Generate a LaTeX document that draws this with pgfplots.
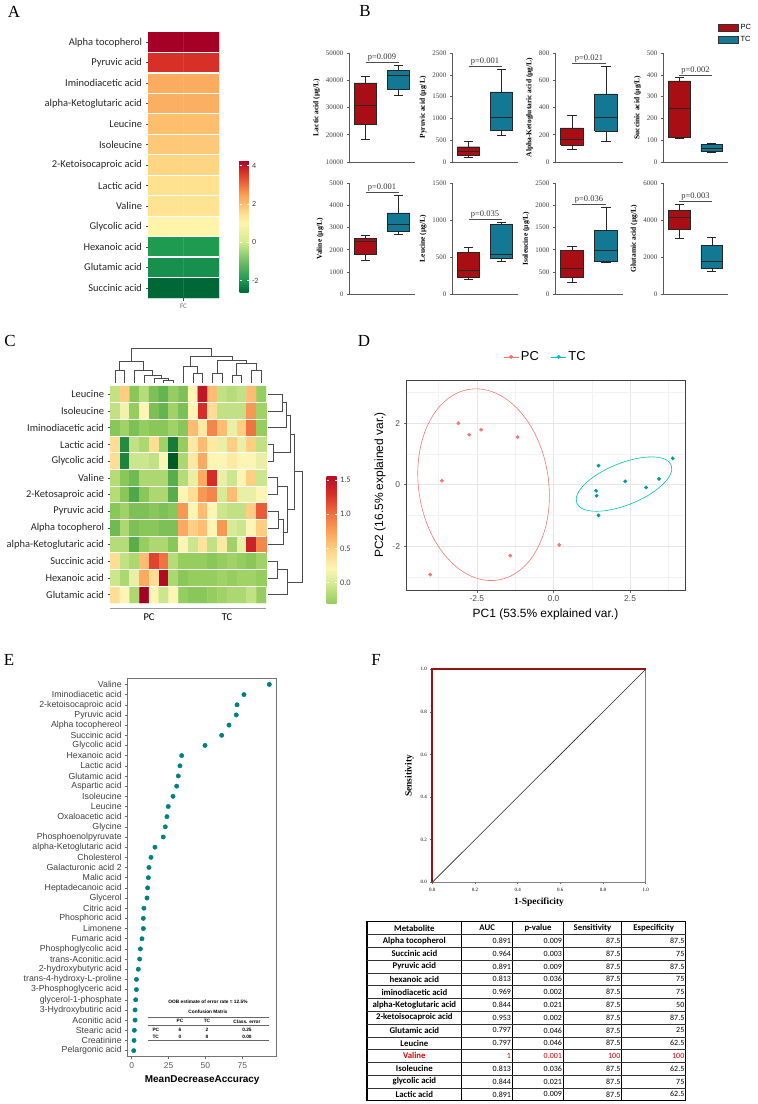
\documentclass[border=0pt]{standalone}
\usepackage{fontspec}
\setmainfont{Liberation Serif}
\newfontfamily\calfont{Carlito}
\newfontfamily\arifont{Liberation Sans}
\usepackage{pgfplots}
\pgfplotsset{compat=1.18}
\definecolor{pcred}{RGB}{168,14,20}
\definecolor{tcblue}{RGB}{18,120,148}
\definecolor{pcpink}{RGB}{248,118,109}
\definecolor{tccyan}{RGB}{0,191,196}
\definecolor{dotteal}{RGB}{0,128,128}
\definecolor{rocred}{RGB}{150,20,20}
\definecolor{valred}{RGB}{225,0,0}
\pgfplotsset{/pgf/number format/assume math mode=true}
\newcommand{\dtop}[5]{\draw (axis cs:#1,#2) -- (axis cs:#1,#5) -- (axis cs:#3,#5) -- (axis cs:#3,#4);}
\newcommand{\dright}[5]{\draw (axis cs:#2,#1) -- (axis cs:#5,#1) -- (axis cs:#5,#3) -- (axis cs:#4,#3);}
\pgfplotsset{
  bplot/.style={scale only axis, width=66bp, axis lines*=left, axis line style={black!65, line width=0.8bp, -},
    xmin=0.5, xmax=2.5, xtick=\empty, tick align=outside, major tick length=2.2bp,
    tick style={black!65, line width=0.6bp}, ytick pos=left,
    yticklabel style={font=\fontsize{7}{8}\selectfont, text=black!75},
    ylabel style={font=\bfseries\fontsize{7.5}{8}\selectfont, yshift=-1bp},
    scaled y ticks=false, /pgf/number format/set thousands separator={}, clip=false},
  pcbox/.style={fill=pcred, draw=black!85, line width=0.45bp},
  tcbox/.style={fill=tcblue, draw=black!85, line width=0.45bp},
}
% box at position 1 / 2: style, lower whisker, Q1, median, Q3, upper whisker
\newcommand{\bxa}[6]{\addplot[#1] coordinates {(0.665,#3) (1.335,#3) (1.335,#5) (0.665,#5) (0.665,#3)};
 \addplot[black!85, line width=0.45bp, unbounded coords=jump] coordinates {(1,#2) (1,#3) (nan,nan) (1,#5) (1,#6) (nan,nan) (0.86,#2) (1.14,#2) (nan,nan) (0.86,#6) (1.14,#6) (nan,nan) (0.665,#4) (1.335,#4)};}
\newcommand{\bxb}[6]{\addplot[#1] coordinates {(1.665,#3) (2.335,#3) (2.335,#5) (1.665,#5) (1.665,#3)};
 \addplot[black!85, line width=0.45bp, unbounded coords=jump] coordinates {(2,#2) (2,#3) (nan,nan) (2,#5) (2,#6) (nan,nan) (1.86,#2) (2.14,#2) (nan,nan) (1.86,#6) (2.14,#6) (nan,nan) (1.665,#4) (2.335,#4)};}
\newcommand{\pval}[2]{\addplot[black!70, line width=0.5bp] coordinates {(1,#1) (2,#1)};
  \node[anchor=south, inner sep=0.6bp, font=\fontsize{8.5}{9}\selectfont, text=black!80] at (axis cs:1.5,#1) {#2};}
\begin{document}
\begin{tikzpicture}
\useasboundingbox (0bp,0bp) rectangle (758bp,-1104bp);
% panel letters
\node[font=\fontsize{17}{18}\selectfont] at (14bp,-12bp) {A};
\node[font=\fontsize{17}{18}\selectfont] at (365bp,-11bp) {B};
\node[font=\fontsize{17}{18}\selectfont] at (10bp,-341bp) {C};
\node[font=\fontsize{17}{18}\selectfont] at (364bp,-341bp) {D};
\node[font=\fontsize{17}{18}\selectfont] at (9bp,-660bp) {E};
\node[font=\fontsize{17}{18}\selectfont] at (376bp,-660bp) {F};

% ================= A =================
\begin{axis}[at={(148bp,-298bp)}, anchor=south west, scale only axis, width=71bp, height=266bp,
  xmin=-0.5, xmax=1.5, ymin=-0.5, ymax=12.5, y dir=reverse,
  axis line style={draw=none}, tick align=outside, major tick length=2.5bp,
  tick style={black!70, line width=0.5pt}, xtick pos=left, ytick pos=left,
  xtick={0.5}, xticklabels={FC}, ytick={0,...,12},
  yticklabels={Alpha tocopherol, Pyruvic acid, Iminodiacetic acid, alpha-Ketoglutaric acid, Leucine, Isoleucine, 2-Ketoisocaproic acid, Lactic acid, Valine, Glycolic acid, Hexanoic acid, Glutamic acid, Succinic acid},
  yticklabel style={font=\calfont\fontsize{10.5}{11}\selectfont, text=black!85},
  xticklabel style={font=\calfont\fontsize{7}{8}\selectfont, text=black!60},
  minor ytick={0.5,1.5,...,11.5}, yminorgrids, minor grid style={white, line width=1.2bp}, minor tick length=0pt,
  axis on top,
  colormap={fcmap}{rgb255(0cm)=(0,104,55); rgb255(6cm)=(26,152,80); rgb255(16cm)=(110,190,100); rgb255(26cm)=(210,235,140); rgb255(36cm)=(255,244,170); rgb255(41cm)=(254,224,140); rgb255(46cm)=(253,190,110); rgb255(51cm)=(250,160,85); rgb255(56cm)=(240,110,60); rgb255(63cm)=(215,48,39); rgb255(69cm)=(165,0,38)},
  point meta min=-2.6, point meta max=4.3,
  colorbar, colorbar style={at={(parent axis.south east)}, anchor=south west, xshift=12bp, yshift=6bp, scale only axis, width=9bp, height=132bp, ytick={-2,0,2,4}, yticklabel pos=right, axis line style={draw=none}, major tick length=2bp, tick style={white, line width=0.6pt}, tick align=inside, yticklabel style={font=\calfont\fontsize{8}{9}\selectfont, text=black!75}}]
\addplot[matrix plot*, mesh/cols=2, point meta=explicit] table[meta=c, row sep=\\]{
x y c\\
0 0 4.3\\ 1 0 4.3\\
0 1 3.7\\ 1 1 3.7\\
0 2 2.3\\ 1 2 2.3\\
0 3 2.25\\ 1 3 2.25\\
0 4 2.0\\ 1 4 2.0\\
0 5 1.85\\ 1 5 1.85\\
0 6 1.65\\ 1 6 1.65\\
0 7 1.45\\ 1 7 1.45\\
0 8 1.4\\ 1 8 1.4\\
0 9 1.0\\ 1 9 1.0\\
0 10 -1.95\\ 1 10 -1.95\\
0 11 -2.1\\ 1 11 -2.1\\
0 12 -2.6\\ 1 12 -2.6\\
};
\end{axis}

% ================= B =================
\begin{axis}[bplot, at={(349bp,-162bp)}, anchor=south west, height=109bp, ymin=10000, ymax=50000, ytick distance=10000, ylabel={Lactic acid (µg/L)}]
\bxa{pcbox}{18500}{24000}{31000}{39000}{41500}
\bxb{tcbox}{34500}{36800}{42000}{43500}{45500}
\pval{46700}{p=0.009}
\end{axis}
\begin{axis}[bplot, at={(452bp,-162bp)}, anchor=south west, height=109bp, ymin=0, ymax=2500, ytick distance=500, ylabel={Pyruvic acid (µg/L)}]
\bxa{pcbox}{110}{150}{240}{350}{470}
\bxb{tcbox}{620}{730}{1030}{1610}{2120}
\pval{2200}{p=0.001}
\end{axis}
\begin{axis}[bplot, at={(555bp,-162bp)}, anchor=south west, height=109bp, width=68bp, ymin=0, ymax=800, ytick distance=200, ylabel={Alpha-Ketoglutaric acid (µg/L)}]
\bxa{pcbox}{95}{125}{169}{250}{345}
\bxb{tcbox}{155}{228}{330}{500}{705}
\pval{727}{p=0.021}
\end{axis}
\begin{axis}[bplot, at={(663bp,-162bp)}, anchor=south west, height=109bp, width=65bp, ymin=0, ymax=500, ytick distance=100, ylabel={Succinic acid (µg/L)},
  legend style={at={(0.846,1.284)}, anchor=north west, draw=none, fill=none, font=\arifont\fontsize{7.5}{8}\selectfont, inner sep=0pt, row sep=1.2bp},
  legend cell align=left,
  legend image code/.code={\draw[#1] (0bp,-3.6bp) rectangle (20bp,3.6bp);}]
\addlegendimage{fill=pcred, draw=black!80}\addlegendentry{PC}
\addlegendimage{fill=tcblue, draw=black!80}\addlegendentry{TC}
\bxa{pcbox}{110}{115}{247}{372}{390}
\bxb{tcbox}{46}{50}{65}{82}{87}
\pval{400}{p=0.002}
\end{axis}
\begin{axis}[bplot, at={(349bp,-294bp)}, anchor=south west, height=110.7bp, ymin=0, ymax=5000, ytick distance=1000, ylabel={Valine (µg/L)}]
\bxa{pcbox}{1540}{1775}{2400}{2500}{2660}
\bxb{tcbox}{2700}{2850}{3160}{3660}{4440}
\pval{4600}{p=0.001}
\end{axis}
\begin{axis}[bplot, at={(452bp,-294bp)}, anchor=south west, height=110.7bp, ymin=0, ymax=1500, ytick distance=500, ylabel={Leucine (µg/L)}]
\bxa{pcbox}{194}{230}{316}{560}{636}
\bxb{tcbox}{438}{484}{538}{945}{966}
\pval{1012}{p=0.035}
\end{axis}
\begin{axis}[bplot, at={(555bp,-294bp)}, anchor=south west, height=110.7bp, width=68bp, ymin=0, ymax=2500, ytick distance=500, ylabel={Isoleucine (µg/L)}]
\bxa{pcbox}{264}{368}{580}{978}{1068}
\bxb{tcbox}{707}{730}{994}{1445}{1950}
\pval{2026}{p=0.036}
\end{axis}
\begin{axis}[bplot, at={(663bp,-294bp)}, anchor=south west, height=110.7bp, width=65bp, ymin=0, ymax=6000, ytick distance=2000, ylabel={Glutamic acid (µg/L)}]
\bxa{pcbox}{3019}{3523}{4136}{4553}{4878}
\bxb{tcbox}{1247}{1393}{1753}{2618}{3073}
\pval{5042}{p=0.003}
\end{axis}

% ================= C =================
\begin{axis}[at={(110bp,-603bp)}, anchor=south west, scale only axis, width=156bp, height=217bp,
  xmin=-0.5, xmax=15.5, ymin=-0.5, ymax=12.5, y dir=reverse, clip=false,
  axis line style={draw=none}, tick align=outside, major tick length=2.5bp,
  tick style={black!70, line width=0.5pt}, xtick=\empty, ytick pos=left, ytick={0,...,12},
  yticklabels={Leucine, Isoleucine, Iminodiacetic acid, Lactic acid, Glycolic acid, Valine, 2-Ketosaproic acid, Pyruvic acid, Alpha tocopherol, alpha-Ketoglutaric acid, Succinic acid, Hexanoic acid, Glutamic acid},
  yticklabel style={font=\calfont\fontsize{10.5}{11}\selectfont, text=black!85},
  minor xtick={0.5,1.5,...,14.5}, minor ytick={0.5,1.5,...,11.5}, xminorgrids, yminorgrids,
  minor grid style={white, line width=1bp}, minor tick length=0pt, axis on top,
  colormap={hmap}{rgb255(0cm)=(0,90,40); rgb255(6cm)=(35,140,65); rgb255(12cm)=(100,180,80); rgb255(16cm)=(150,205,95); rgb255(22cm)=(215,235,150); rgb255(26cm)=(252,245,180); rgb255(31cm)=(254,215,140); rgb255(36cm)=(252,170,95); rgb255(42cm)=(240,115,65); rgb255(48cm)=(215,45,40); rgb255(56cm)=(165,0,38)},
  point meta min=-1.1, point meta max=1.7,
  colorbar, colorbar style={at={(parent axis.south east)}, anchor=south west, xshift=52bp, scale only axis, width=10bp, height=127bp, ymin=-0.3, ymax=1.56, ytick={0,0.5,1,1.5}, yticklabel pos=right, axis line style={draw=none}, major tick length=2bp, tick style={white, line width=0.6pt}, tick align=inside, yticklabel style={/pgf/number format/fixed, /pgf/number format/fixed zerofill, /pgf/number format/precision=1, font=\calfont\fontsize{8.5}{9}\selectfont, text=black!75}}]
\addplot[matrix plot*, mesh/cols=16, point meta=explicit] table[meta=c, row sep=\\]{
x y c\\
0 0 -0.1\\ 1 0 0.5\\ 2 0 -0.35\\ 3 0 -0.15\\ 4 0 -0.4\\ 5 0 -0.5\\ 6 0 -0.3\\ 7 0 -0.4\\ 8 0 0.2\\ 9 0 1.5\\ 10 0 0.6\\ 11 0 -0.1\\ 12 0 -0.15\\ 13 0 -0.1\\ 14 0 0.6\\ 15 0 -0.3\\
0 1 -0.1\\ 1 1 0.15\\ 2 1 -0.3\\ 3 1 0.2\\ 4 1 -0.4\\ 5 1 -0.5\\ 6 1 -0.25\\ 7 1 -0.4\\ 8 1 0.2\\ 9 1 1.3\\ 10 1 0.4\\ 11 1 -0.1\\ 12 1 -0.1\\ 13 1 -0.1\\ 14 1 0.8\\ 15 1 -0.25\\
0 2 -0.35\\ 1 2 -0.25\\ 2 2 -0.4\\ 3 2 -0.3\\ 4 2 -0.35\\ 5 2 -0.35\\ 6 2 -0.25\\ 7 2 -0.35\\ 8 2 0.6\\ 9 2 0.3\\ 10 2 0.9\\ 11 2 0.6\\ 12 2 0.1\\ 13 2 0.5\\ 14 2 1.0\\ 15 2 -0.3\\
0 3 0.4\\ 1 3 -0.8\\ 2 3 -0.1\\ 3 3 -0.2\\ 4 3 0.4\\ 5 3 -0.25\\ 6 3 -0.9\\ 7 3 -0.3\\ 8 3 0.3\\ 9 3 0.6\\ 10 3 0.3\\ 11 3 0.1\\ 12 3 0.5\\ 13 3 0.1\\ 14 3 0.5\\ 15 3 -0.1\\
0 4 0.4\\ 1 4 -0.85\\ 2 4 -0.05\\ 3 4 -0.05\\ 4 4 -0.1\\ 5 4 0.2\\ 6 4 -1.1\\ 7 4 -0.2\\ 8 4 0.3\\ 9 4 0.7\\ 10 4 0.2\\ 11 4 0.2\\ 12 4 0.3\\ 13 4 0.2\\ 14 4 0.2\\ 15 4 0.1\\
0 5 -0.15\\ 1 5 -0.35\\ 2 5 -0.45\\ 3 5 -0.2\\ 4 5 -0.2\\ 5 5 -0.2\\ 6 5 -0.55\\ 7 5 -0.15\\ 8 5 0.1\\ 9 5 0.7\\ 10 5 1.3\\ 11 5 0.1\\ 12 5 -0.05\\ 13 5 0.2\\ 14 5 0.5\\ 15 5 -0.05\\
0 6 -0.15\\ 1 6 -0.35\\ 2 6 -0.6\\ 3 6 -0.35\\ 4 6 -0.2\\ 5 6 -0.2\\ 6 6 -0.55\\ 7 6 0.2\\ 8 6 0.4\\ 9 6 0.8\\ 10 6 0.9\\ 11 6 0.0\\ 12 6 0.6\\ 13 6 0.1\\ 14 6 0.1\\ 15 6 0.2\\
0 7 -0.35\\ 1 7 -0.25\\ 2 7 -0.4\\ 3 7 -0.4\\ 4 7 -0.35\\ 5 7 -0.4\\ 6 7 -0.35\\ 7 7 0.8\\ 8 7 0.2\\ 9 7 0.6\\ 10 7 0.2\\ 11 7 -0.05\\ 12 7 -0.1\\ 13 7 -0.1\\ 14 7 0.5\\ 15 7 1.1\\
0 8 -0.45\\ 1 8 -0.2\\ 2 8 -0.4\\ 3 8 -0.35\\ 4 8 -0.35\\ 5 8 -0.4\\ 6 8 -0.4\\ 7 8 0.7\\ 8 8 0.5\\ 9 8 0.6\\ 10 8 0.2\\ 11 8 0.8\\ 12 8 0.0\\ 13 8 -0.05\\ 14 8 0.2\\ 15 8 0.5\\
0 9 -0.15\\ 1 9 -0.15\\ 2 9 -0.55\\ 3 9 -0.3\\ 4 9 -0.2\\ 5 9 -0.2\\ 6 9 -0.35\\ 7 9 0.2\\ 8 9 -0.05\\ 9 9 0.35\\ 10 9 -0.1\\ 11 9 0.3\\ 12 9 -0.25\\ 13 9 0.1\\ 14 9 1.4\\ 15 9 0.9\\
0 10 0.4\\ 1 10 -0.1\\ 2 10 -0.2\\ 3 10 0.6\\ 4 10 1.2\\ 5 10 1.0\\ 6 10 -0.15\\ 7 10 -0.3\\ 8 10 -0.3\\ 9 10 -0.3\\ 10 10 -0.35\\ 11 10 -0.3\\ 12 10 -0.25\\ 13 10 -0.3\\ 14 10 -0.35\\ 15 10 -0.25\\
0 11 -0.05\\ 1 11 -0.2\\ 2 11 0.1\\ 3 11 0.7\\ 4 11 0.4\\ 5 11 1.6\\ 6 11 -0.2\\ 7 11 -0.35\\ 8 11 -0.3\\ 9 11 -0.3\\ 10 11 -0.3\\ 11 11 -0.25\\ 12 11 -0.3\\ 13 11 -0.25\\ 14 11 -0.25\\ 15 11 -0.3\\
0 12 0.4\\ 1 12 0.2\\ 2 12 -0.2\\ 3 12 1.7\\ 4 12 0.2\\ 5 12 -0.05\\ 6 12 0.2\\ 7 12 -0.3\\ 8 12 -0.35\\ 9 12 -0.35\\ 10 12 -0.3\\ 11 12 -0.25\\ 12 12 -0.2\\ 13 12 -0.2\\ 14 12 -0.1\\ 15 12 -0.3\\
};
\begin{scope}[black!70, line width=0.7bp]
\dtop{5}{-0.7}{6}{-0.7}{-0.82}
\dtop{4}{-0.7}{5.5}{-0.82}{-0.96}
\dtop{3}{-0.7}{4.75}{-0.96}{-1.16}
\dtop{2}{-0.7}{3.875}{-1.16}{-1.46}
\dtop{0}{-0.7}{1}{-0.7}{-1.46}
\dtop{0.5}{-1.46}{2.9375}{-1.46}{-1.96}
\dtop{8}{-0.7}{9}{-0.7}{-1.26}
\dtop{7}{-0.7}{8.5}{-1.26}{-1.66}
\dtop{10}{-0.7}{11}{-0.7}{-1.26}
\dtop{12}{-0.7}{13}{-0.7}{-1.16}
\dtop{14}{-0.7}{15}{-0.7}{-1.46}
\dtop{12.5}{-1.16}{14.5}{-1.46}{-1.86}
\dtop{10.5}{-1.26}{13.5}{-1.86}{-2.06}
\dtop{7.75}{-1.66}{12}{-2.06}{-2.25}
\dtop{1.71875}{-1.96}{9.875}{-2.25}{-2.76}
\dright{0}{15.7}{1}{15.7}{17.14}
\dright{0.5}{17.14}{2}{15.7}{17.55}
\dright{3}{15.7}{4}{15.7}{16.22}
\dright{1.25}{17.55}{3.5}{16.22}{17.96}
\dright{5}{15.7}{6}{15.7}{16.63}
\dright{7}{15.7}{8}{15.7}{16.73}
\dright{7.5}{16.73}{9}{15.7}{17.24}
\dright{5.5}{16.63}{8.25}{17.24}{17.65}
\dright{2.375}{17.96}{6.875}{17.65}{18.37}
\dright{10}{15.7}{11}{15.7}{16.63}
\dright{10.5}{16.63}{12}{15.7}{17.65}
\dright{4.625}{18.37}{11.25}{17.65}{19.19}
\end{scope}
\draw[black!40, line width=1bp] (axis cs:-0.5,12.8) -- (axis cs:7.45,12.8);
\draw[black!40, line width=1bp] (axis cs:7.55,12.8) -- (axis cs:15.5,12.8);
\node[font=\calfont\fontsize{10.5}{11}\selectfont] at (axis cs:3.5,13.35) {PC};
\node[font=\calfont\fontsize{10.5}{11}\selectfont] at (axis cs:11.5,13.35) {TC};
\end{axis}

% ================= D =================
\begin{axis}[at={(406bp,-590bp)}, anchor=south west, scale only axis, width=279bp, height=210bp,
  xmin=-4.81, xmax=4.29, ymin=-3.43, ymax=3.41,
  xtick={-2.5,0,2.5}, ytick={-2,0,2}, minor xtick={-3.75,-1.25,1.25,3.75}, minor ytick={-3,-1,1,3},
  grid=both, major grid style={black!10, line width=0.6bp}, minor grid style={black!5, line width=0.4bp}, minor tick length=0pt,
  tick align=outside, major tick length=2.5bp, tick style={black!60, line width=0.5bp}, xtick pos=left, ytick pos=left,
  axis line style={black!75, line width=0.9bp},
  xticklabel style={/pgf/number format/fixed, /pgf/number format/fixed zerofill, /pgf/number format/precision=1, font=\arifont\fontsize{8.5}{9}\selectfont, text=black!70},
  yticklabel style={font=\arifont\fontsize{8.5}{9}\selectfont, text=black!70},
  xlabel={PC1 (53.5\% explained var.)}, ylabel={PC2 (16.5\% explained var.)},
  label style={font=\arifont\fontsize{12}{13}\selectfont},
  legend columns=2, legend style={at={(0.5,1.11)}, anchor=center, draw=none, fill=none, font=\arifont\fontsize{13}{14}\selectfont, /tikz/every even column/.append style={column sep=10bp}},
  legend image code/.code={\draw[#1] (0bp,0bp) -- (15bp,0bp); \fill[#1] (7.5bp,0bp) circle (1.8bp);}]
\addlegendimage{pcpink, line width=0.5bp}\addlegendentry{PC}
\addlegendimage{tccyan, line width=0.5bp}\addlegendentry{TC}
\addplot[only marks, mark=*, mark size=1.7bp, pcpink] coordinates {(-3.10,2.0) (-2.75,1.63) (-2.36,1.79) (-1.17,1.55) (-3.64,0.13) (-4.02,-2.93) (-1.41,-2.31) (0.19,-1.96)};
\addplot[only marks, mark=*, mark size=1.7bp, tccyan!80!black] coordinates {(1.47,0.62) (1.39,-0.2) (1.41,-0.36) (1.47,-1.0) (2.34,0.11) (3.02,-0.09) (3.44,0.19) (3.89,0.86)};
\draw[pcpink, line width=0.6bp, rotate around={8.3:(axis cs:-2.28,0)}] (axis cs:-2.28,0) ellipse [x radius=2.12, y radius=3.14];
\draw[tccyan, line width=0.6bp, rotate around={22:(axis cs:2.3,0.02)}] (axis cs:2.3,0.02) ellipse [x radius=1.66, y radius=0.68];
\end{axis}

% ================= E =================
\begin{axis}[at={(127.7bp,-1056.7bp)}, anchor=south west, scale only axis, width=149bp, height=378.4bp,
  xmin=-2.7, xmax=98.3, ymin=0.4, ymax=37.6, y dir=reverse,
  xtick={0,25,50,75}, ytick={1,...,37},
  yticklabels={Valine, Iminodiacetic acid, 2-ketoisocaproic acid, Pyruvic acid, Alpha tocophereol, Succinic acid, Glycolic acid, Hexanoic acid, Lactic acid, Glutamic acid, Aspartic acid, Isoleucine, Leucine, Oxaloacetic acid, Glycine, Phosphoenolpyruvate, alpha-Ketoglutaric acid, Cholesterol, Galacturonic acid 2, Malic acid, Heptadecanoic acid, Glycerol, Citric acid, Phosphoric acid, Limonene, Fumaric acid, Phosphoglycolic acid, trans-Aconitic.acid, 2-hydroxybutyric acid, trans-4-hydroxy-L-proline, 3-Phosphoglyceric acid, glycerol-1-phosphate, 3-Hydroxybutiric acid, Aconitic acid, Stearic acid, Creatinine, Pelargonic acid},
  tick align=outside, major tick length=2.5bp, tick style={black!60, line width=0.5bp}, xtick pos=left, ytick pos=left,
  axis line style={black!55, line width=0.8bp},
  yticklabel style={font=\arifont\fontsize{8.8}{9.5}\selectfont, text=black!75},
  xticklabel style={font=\arifont\fontsize{8.5}{9.5}\selectfont, text=black!65},
  xlabel={MeanDecreaseAccuracy}, xlabel style={font=\arifont\bfseries\fontsize{10}{11}\selectfont}]
\addplot[only marks, mark=*, mark size=2.2bp, dotteal] coordinates {(93.3,1) (76.1,2) (71.4,3) (70.9,4) (66,5) (61,6) (49.7,7) (33.9,8) (32.7,9) (31.6,10) (30.5,11) (28,12) (24.8,13) (23.9,14) (22.8,15) (21.4,16) (15.8,17) (13.1,18) (11.7,19) (11.3,20) (10.8,21) (10.4,22) (8.3,23) (7.9,24) (7.9,25) (7.0,26) (5.9,27) (5.4,28) (4.5,29) (3.2,30) (3.2,31) (2.7,32) (2.3,33) (2.3,34) (1.8,35) (1.6,36) (1.4,37)};
\end{axis}
\begin{scope}[font=\arifont\bfseries\fontsize{4.8}{5}\selectfont]
\node at (208bp,-1001.7bp) {OOB estimate of error rate = 12.5\%};
\node at (208bp,-1011.7bp) {Confusion Matrix};
\draw[black!60, line width=0.5bp] (147.7bp,-1017bp) -- (268.7bp,-1017bp);
\draw[black!60, line width=0.4bp] (147.7bp,-1025bp) -- (268.7bp,-1025bp);
\draw[black!60, line width=0.5bp] (147.7bp,-1040.7bp) -- (268.7bp,-1040.7bp);
\node at (180bp,-1021.3bp) {PC};
\node at (207bp,-1021.3bp) {TC};
\node at (247bp,-1021.3bp) {Class. error};
\node[anchor=west] at (149bp,-1029.7bp) {PC};
\node at (180bp,-1029.7bp) {6};
\node at (207bp,-1029.7bp) {2};
\node at (247bp,-1029.7bp) {0.25};
\node[anchor=west] at (149bp,-1037.2bp) {TC};
\node at (180bp,-1037.2bp) {0};
\node at (207bp,-1037.2bp) {8};
\node at (247bp,-1037.2bp) {0.00};
\end{scope}

% ================= F =================
\begin{axis}[at={(432.3bp,-882.3bp)}, anchor=south west, scale only axis, width=213.4bp, height=213bp,
  xmin=0, xmax=1, ymin=0, ymax=1, xtick={0,0.2,...,1}, ytick={0,0.2,...,1},
  axis line style={black!50, line width=0.6bp}, tick align=outside, major tick length=2bp,
  tick style={black!60, line width=0.5bp}, xtick pos=left, ytick pos=left,
  xticklabel style={/pgf/number format/fixed, /pgf/number format/fixed zerofill, /pgf/number format/precision=1, font=\fontsize{5}{6}\selectfont},
  yticklabel style={/pgf/number format/fixed, /pgf/number format/fixed zerofill, /pgf/number format/precision=1, font=\fontsize{5}{6}\selectfont},
  xlabel={1-Specificity}, ylabel={Sensitivity}, label style={font=\bfseries\fontsize{9.5}{10}\selectfont}, clip=false]
\addplot[black!85, line width=0.6bp] coordinates {(0,0) (1,1)};
\addplot[rocred, line width=2bp] coordinates {(0,0) (0,1) (1,1)};
\end{axis}
% table
\draw[line width=1.2bp] (367bp,-921.7bp) rectangle (685.7bp,-1100.7bp);
\foreach \x in {461.7,512.7,563.3,621.7} \draw[line width=1bp] ({\x*1bp},-921.7bp) -- ({\x*1bp},-1100.7bp);
\foreach \k in {1,...,13} \draw[line width=0.45bp, black!80] (367bp,{-(921.7+12.786*\k)*1bp}) -- (685.7bp,{-(921.7+12.786*\k)*1bp});
\foreach \cx/\t in {414.35/Metabolite, 487.2/AUC, 538/p-value, 592.5/Sensitivity, 653.7/Especificity}
  \node[font=\calfont\bfseries\fontsize{8.8}{9}\selectfont] at ({\cx*1bp},-928.1bp) {\t};
\foreach \n/\a/\p/\s/\e [count=\i] in {Alpha tocopherol/0.891/0.009/87.5/87.5, Succinic acid/0.964/0.003/87.5/75, Pyruvic acid/0.891/0.009/87.5/87.5, hexanoic acid/0.813/0.036/87.5/75, iminodiacetic acid/0.969/0.002/87.5/75, alpha-Ketoglutaric acid/0.844/0.021/87.5/50, 2-ketoisocaproic acid/0.953/0.002/87.5/87.5, Glutamic acid/0.797/0.046/87.5/25, Leucine/0.797/0.046/87.5/62.5, Valine/1/0.001/100/100, Isoleucine/0.813/0.036/87.5/62.5, glycolic acid/0.844/0.021/87.5/75, Lactic acid/0.891/0.009/87.5/62.5} {
  \pgfmathsetmacro\yy{-(921.7+12.786*(\i+0.5))}
  \ifnum\i=10 \def\tc{valred}\else\def\tc{black}\fi
  \node[font=\calfont\bfseries\fontsize{8.8}{9}\selectfont, text=\tc] at ({414.35bp},{\yy*1bp}) {\n};
  \node[anchor=east, inner sep=1.2bp, font=\calfont\fontsize{8}{9}\selectfont, text=\tc] at ({461.7bp+50.6bp},{\yy*1bp}) {\a};
  \node[anchor=east, inner sep=1.2bp, font=\calfont\fontsize{8}{9}\selectfont, text=\tc] at ({563.3bp},{\yy*1bp}) {\p};
  \node[anchor=east, inner sep=1.2bp, font=\calfont\fontsize{8}{9}\selectfont, text=\tc] at ({621.7bp},{\yy*1bp}) {\s};
  \node[anchor=east, inner sep=1.2bp, font=\calfont\fontsize{8}{9}\selectfont, text=\tc] at ({685.7bp},{\yy*1bp}) {\e};
}
\end{tikzpicture}
\end{document}
